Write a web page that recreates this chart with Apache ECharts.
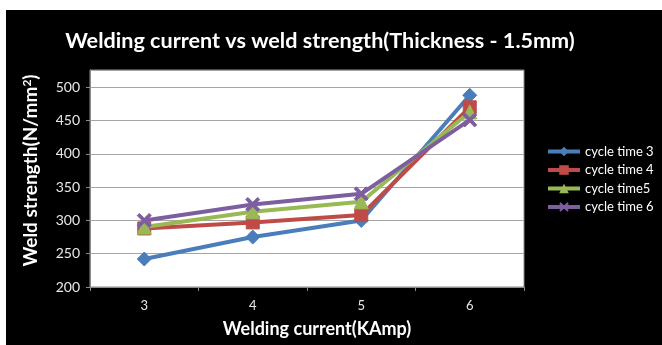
<!DOCTYPE html>
<html>
<head>
<meta charset="utf-8">
<script src="https://cdn.jsdelivr.net/npm/echarts@6/dist/echarts.min.js"></script>
<style>
html,body{margin:0;padding:0;background:#fff;}
#bg{position:absolute;left:6px;top:10px;width:656px;height:335px;background:#000;}
#chart{position:absolute;left:0;top:0;width:662px;height:345px;}
</style>
</head>
<body>
<div id="bg"></div>
<div id="chart"></div>
<script>
const categories = ['3', '4', '5', '6'];
const cycleTime3 = [242, 275, 300, 488];
const cycleTime4 = [288, 297, 308, 470];
const cycleTime5 = [290, 313, 328, 463];
const cycleTime6 = [300, 324, 340, 451];
const seriesNames = ['cycle time 3', 'cycle time 4', 'cycle time5', 'cycle time 6'];
const yTicks = { min: 200, max: 526, interval: 50 };

const FONT = 'Lato, "Open Sans", sans-serif';
const xPath = 'path://M0,1.5L1.5,0L5,3.5L8.5,0L10,1.5L6.5,5L10,8.5L8.5,10L5,6.5L1.5,10L0,8.5L3.5,5Z';

const colors = ['#4a7ebb', '#be4b48', '#98b954', '#7d5fa0'];
const symbols = ['diamond', 'rect', 'triangle', xPath];
const sizes = [14, 13, 14, 14];
const data = [cycleTime3, cycleTime4, cycleTime5, cycleTime6];

const chart = echarts.init(document.getElementById('chart'), null, {renderer: 'canvas'});
chart.setOption({
  backgroundColor: 'transparent',
  animation: false,
  color: colors,
  title: {
    text: 'Welding current vs weld strength(Thickness - 1.5mm)',
    left: 315, textAlign: 'center', top: 25,
    textStyle: { color: '#fff', fontFamily: FONT, fontWeight: 'bold', fontSize: 21.6 }
  },
  legend: {
    orient: 'vertical',
    left: 541, top: 140,
    itemWidth: 32, itemHeight: 12, itemGap: 5.5,
    lineStyle: { width: 4 },
    textStyle: { color: '#fff', fontFamily: FONT, fontSize: 13 },
    data: seriesNames
  },
  grid: {
    left: 90, right: 138, top: 70, bottom: 58,
    show: true, backgroundColor: '#fff', borderColor: '#8c8c8c', borderWidth: 1
  },
  xAxis: {
    type: 'category', data: categories, boundaryGap: true,
    name: 'Welding current(KAmp)', nameLocation: 'middle', nameGap: 33,
    nameTextStyle: { color: '#fff', fontFamily: FONT, fontWeight: 'bold', fontSize: 18, padding: [0,0,0,20] },
    axisLine: { lineStyle: { color: '#8c8c8c' } },
    axisTick: { show: true, length: 4, interval: 0, lineStyle: { color: '#8c8c8c' } },
    axisLabel: { color: '#e8e8e8', fontFamily: FONT, fontSize: 13, margin: 12 }
  },
  yAxis: {
    type: 'value', min: yTicks.min, max: yTicks.max, interval: yTicks.interval,
    name: 'Weld strength(N/mm{sup|2})', nameLocation: 'middle', nameGap: 49,
    nameTextStyle: { color: '#fff', fontFamily: FONT, fontWeight: 'bold', fontSize: 19, padding: [0,0,0,16],
      rich: { sup: { color: '#fff', fontFamily: FONT, fontWeight: 'bold', fontSize: 12, verticalAlign: 'top', padding: [0,0,8,0] } } },
    axisLine: { show: true, lineStyle: { color: '#8c8c8c' } },
    axisTick: { show: true, length: 4, lineStyle: { color: '#8c8c8c' } },
    splitLine: { lineStyle: { color: '#a6a6a6' } },
    axisLabel: { color: '#e8e8e8', fontFamily: FONT, fontSize: 14, margin: 10, showMaxLabel: false }
  },
  series: seriesNames.map((n, i) => ({
    name: n, type: 'line', data: data[i],
    symbol: symbols[i], symbolSize: sizes[i], showSymbol: true,
    lineStyle: { width: 4, color: colors[i] },
    itemStyle: { color: colors[i], borderColor: colors[i] },
    z: 2 + i
  }))
});
</script>
</body>
</html>
